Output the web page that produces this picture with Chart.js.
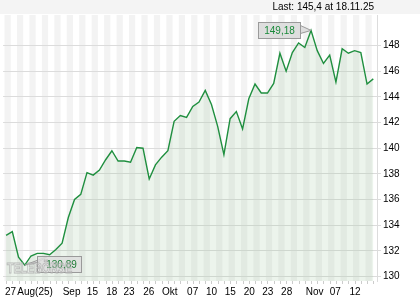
<!DOCTYPE html>
<html>
<head>
<meta charset="utf-8">
<script src="https://cdn.jsdelivr.net/npm/chart.js@4"></script>
<style>
  html, body { margin: 0; padding: 0; background: #fff; }
  canvas { display: block; }
</style>
</head>
<body>
<canvas id="myChart" width="420" height="300"></canvas>
<script>
// closing prices, one per trading day (27 Aug 2025 .. 18 Nov 2025)
var prices = [133.2, 133.5, 131.5, 130.89, 131.6, 131.8, 131.8, 131.7, 132.1, 132.6,
              134.6, 136.0, 136.4, 138.1, 137.9, 138.3, 139.1, 139.8, 139.0, 139.0,
              138.9, 140.05, 140.0, 137.6, 138.7, 139.3, 139.8, 142.1, 142.55, 142.4,
              143.25, 143.6, 144.5, 143.4, 141.7, 139.5, 142.3, 142.85, 141.5, 143.85,
              145.0, 144.3, 144.3, 145.05, 147.4, 146.0, 147.45, 148.2, 147.85, 149.18,
              147.6, 146.6, 147.25, 145.15, 147.75, 147.4, 147.6, 147.45, 145.0, 145.4];
var lastDate = '18.11.25';

// x axis labels and where they sit (in data-point units)
var xTickLabels = ['27', 'Aug(25)', 'Sep', '15', '18', '23', '26', 'Okt', '07', '10', '15', '20', '23', '28', 'Nov', '07', '12'];
var xTickAt = [0.72, 4.66, 10.52, 13.87, 16.98, 19.77, 22.92, 26.31, 29.98, 33.01, 36.04, 39.07, 42.05, 45.08, 49.59, 52.89, 56.08];

var yTicks = [130, 132, 134, 136, 138, 140, 142, 144, 146, 148];

var FONT = "'Liberation Sans', Arial, sans-serif";
var LINE = '#1f8f3f';

function fmt(v, d) {
    return (d === undefined ? String(v) : v.toFixed(d)).replace('.', ',');
}

var extras = {
    id: 'extras',
    beforeDraw: function (chart) {
        var c = chart.ctx, a = chart.chartArea, x = chart.scales.x;
        c.save();
        c.fillStyle = '#fff';
        c.fillRect(0, 0, chart.width, chart.height);
        // top band with last value
        c.fillStyle = '#f4f4f4';
        c.fillRect(0, 0, chart.width, 14);
        c.fillStyle = '#000';
        c.font = '10px ' + FONT;
        c.textAlign = 'right';
        c.textBaseline = 'middle';
        c.fillText('Last: ' + fmt(prices[prices.length - 1]) + ' at ' + lastDate, 374, 7.5);
        // vertical stripes
        c.fillStyle = '#f3f3f3';
        for (var i = 0; i < prices.length + 1; i += 2) {
            var l = Math.max(a.left, x.getPixelForValue(i - 0.25));
            var r = Math.min(a.right, x.getPixelForValue(i + 0.75));
            if (r > l) c.fillRect(l, a.top, r - l, a.bottom - a.top);
        }
        c.restore();
    },
    afterDatasetsDraw: function (chart) {
        var c = chart.ctx, a = chart.chartArea, x = chart.scales.x, y = chart.scales.y;
        c.save();
        // small ticks under the plot, one per point
        c.strokeStyle = '#ccc';
        c.lineWidth = 1;
        c.beginPath();
        for (var i = 0; i < prices.length; i++) {
            var px = Math.round(x.getPixelForValue(i)) + 0.5;
            c.moveTo(px, a.bottom);
            c.lineTo(px, a.bottom + 3);
        }
        c.stroke();

        var hi = prices.indexOf(Math.max.apply(null, prices));
        var lo = prices.indexOf(Math.min.apply(null, prices));
        c.font = '10px ' + FONT;
        c.textAlign = 'center';
        c.textBaseline = 'middle';
        c.lineWidth = 1;

        // max label, left of the point
        var hx = x.getPixelForValue(hi), hy = y.getPixelForValue(prices[hi]);
        var bw = 42, bh = 16, br = Math.round(hx - 11) + 0.5, bt = Math.round(hy - 8) + 0.5;
        c.fillStyle = '#dedede';
        c.strokeStyle = '#9a9a9a';
        c.beginPath();
        c.moveTo(br, bt + 3);
        c.lineTo(hx, hy);
        c.lineTo(br, bt + 11);
        c.closePath();
        c.fill(); c.stroke();
        c.fillRect(br - bw, bt, bw, bh);
        c.strokeRect(br - bw, bt, bw, bh);
        c.fillStyle = '#1a8a3a';
        c.fillText(fmt(prices[hi], 2), br - bw / 2, bt + bh / 2 + 0.5);

        // min label, right of the point
        var lx = x.getPixelForValue(lo), ly = y.getPixelForValue(prices[lo]);
        var mw = 44, ml = Math.round(lx + 12) + 0.5, mt = Math.round(ly - 9) + 0.5;
        c.fillStyle = 'rgba(222,222,222,0.85)';
        c.strokeStyle = '#9a9a9a';
        c.beginPath();
        c.moveTo(lx, ly);
        c.lineTo(ml + 10, mt);
        c.lineTo(ml, mt + 6);
        c.closePath();
        c.fill(); c.stroke();
        c.fillRect(ml, mt, mw, bh);
        c.strokeRect(ml, mt, mw, bh);
        c.fillStyle = '#1a7a32';
        c.fillText(fmt(prices[lo], 2), ml + mw / 2 + 2, mt + bh / 2 + 0.5);

        // watermark on top
        c.font = 'bold 14px ' + FONT;
        c.textAlign = 'left';
        c.fillStyle = 'rgba(255,255,255,0.3)';
        c.strokeStyle = 'rgba(170,170,170,0.75)';
        c.fillText('TELEBÖRSE', 7, 269, 65);
        c.strokeText('TELEBÖRSE', 7, 269, 65);
        c.restore();
    }
};

var ctx = document.getElementById('myChart').getContext('2d');
var myChart = new Chart(ctx, {
    type: 'line',
    data: {
        datasets: [{
            data: prices.map(function (v, i) { return { x: i, y: v }; }),
            borderColor: LINE,
            borderWidth: 1.4,
            backgroundColor: 'rgba(140, 190, 140, 0.17)',
            fill: 'start',
            pointRadius: 0,
            tension: 0
        }]
    },
    options: {
        responsive: false,
        animation: false,
        devicePixelRatio: 1,
        layout: { padding: { top: 15, left: 0, right: 0, bottom: 0 } },
        plugins: { legend: { display: false }, tooltip: { enabled: false } },
        scales: {
            x: {
                type: 'linear',
                min: -0.48,
                max: 59.6,
                afterBuildTicks: function (s) {
                    s.ticks = xTickAt.map(function (v) { return { value: v }; });
                },
                afterFit: function (s) { s.height = 19; },
                grid: { display: false, drawTicks: false },
                border: { display: false },
                ticks: {
                    autoSkip: false,
                    maxRotation: 0,
                    padding: 5,
                    color: '#000',
                    font: { family: FONT, size: 10 },
                    callback: function (v, i) { return xTickLabels[i]; }
                }
            },
            y: {
                position: 'right',
                min: 129.65,
                max: 150.38,
                afterBuildTicks: function (s) {
                    s.ticks = yTicks.map(function (v) { return { value: v }; });
                },
                afterFit: function (s) { s.width = 43; },
                grid: { color: '#dcdcdc', tickLength: 4 },
                border: { color: '#dcdcdc' },
                ticks: {
                    padding: 2,
                    color: '#000',
                    font: { family: FONT, size: 10 },
                    callback: function (v) { return String(v); }
                }
            }
        }
    },
    plugins: [extras]
});
</script>
</body>
</html>
